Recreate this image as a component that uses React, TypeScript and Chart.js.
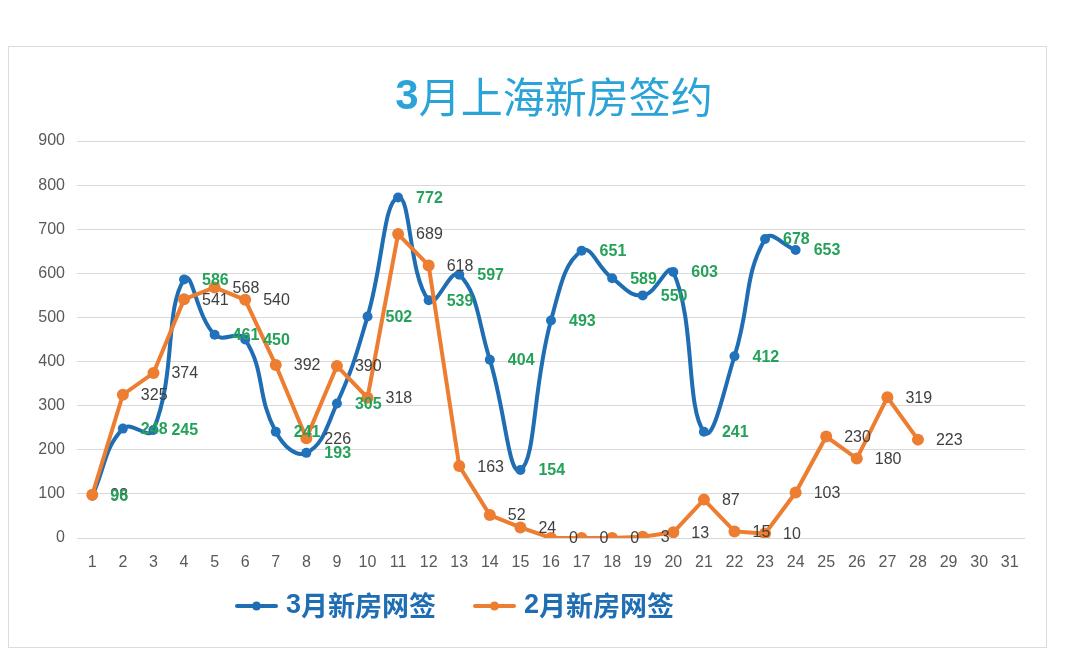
import { useEffect, useRef } from 'react';
import { Chart, registerables, type Plugin } from 'chart.js';

Chart.register(...registerables);

const days = Array.from({ length: 31 }, (_, i) => String(i + 1));
const marchSigned = [96, 248, 245, 586, 461, 450, 241, 193, 305, 502, 772, 539, 597, 404, 154, 493, 651, 589, 550, 603, 241, 412, 678, 653];
const febSigned = [98, 325, 374, 541, 568, 540, 392, 226, 390, 318, 689, 618, 163, 52, 24, 0, 0, 0, 3, 13, 87, 15, 10, 103, 230, 180, 319, 223];
const yTicks = [0, 100, 200, 300, 400, 500, 600, 700, 800, 900];

const TITLE_NUM = '3';
const TITLE_REST = '月上海新房签约';
const MARCH_LABEL = '3月新房网签';
const FEB_LABEL = '2月新房网签';

const BLUE = '#1f6db2';
const ORANGE = '#ed7d31';
const GREEN = '#25a15a';
const LABEL_GRAY = '#404040';
const LATIN = '"Liberation Sans", Arial, sans-serif';
const CJK = '"Noto Sans CJK SC", sans-serif';

// value labels to the right of each point
const valueLabels: Plugin = {
  id: 'valueLabels',
  afterDatasetsDraw(chart) {
    const { ctx } = chart;
    ctx.save();
    ctx.textAlign = 'left';
    ctx.textBaseline = 'middle';
    [1, 0].forEach((di) => {
      const meta = chart.getDatasetMeta(di);
      const ds = chart.data.datasets[di];
      const isMarch = di === 0;
      ctx.font = isMarch ? `bold 16px ${LATIN}` : `16px ${LATIN}`;
      ctx.fillStyle = isMarch ? GREEN : LABEL_GRAY;
      meta.data.forEach((pt, i) => {
        const v = ds.data[i] as number;
        ctx.fillText(String(v), pt.x + 18, pt.y + 1);
      });
    });
    ctx.restore();
  },
};

function drawMixed(ctx: CanvasRenderingContext2D, x: number, y: number, num: string, rest: string, size: number, numWeight: string, restWeight: string, color: string, center: boolean) {
  ctx.font = `${numWeight} ${size}px ${LATIN}`;
  const w1 = ctx.measureText(num).width;
  ctx.font = `${restWeight} ${size}px ${CJK}`;
  const w2 = ctx.measureText(rest).width;
  const start = center ? x - (w1 + w2) / 2 : x;
  ctx.fillStyle = color;
  ctx.textBaseline = 'middle';
  ctx.textAlign = 'left';
  ctx.font = `${numWeight} ${size}px ${LATIN}`;
  ctx.fillText(num, start, y);
  ctx.font = `${restWeight} ${size}px ${CJK}`;
  ctx.fillText(rest, start + w1, y);
  return w1 + w2;
}

const titleAndLegend: Plugin = {
  id: 'titleAndLegend',
  afterDraw(chart) {
    const { ctx } = chart;
    ctx.save();
    drawMixed(ctx, 554, 97, TITLE_NUM, TITLE_REST, 42, 'bold', 'normal', '#2aa3d8', true);

    const items = [
      { color: BLUE, x: 235, label: MARCH_LABEL },
      { color: ORANGE, x: 473, label: FEB_LABEL },
    ];
    items.forEach((it) => {
      const y = 606;
      ctx.strokeStyle = it.color;
      ctx.lineWidth = 4;
      ctx.lineCap = 'round';
      ctx.beginPath();
      ctx.moveTo(it.x + 2, y);
      ctx.lineTo(it.x + 41, y);
      ctx.stroke();
      ctx.fillStyle = it.color;
      ctx.beginPath();
      ctx.arc(it.x + 21.5, y, 4.5, 0, Math.PI * 2);
      ctx.fill();
      drawMixed(ctx, it.x + 51, y, it.label.slice(0, 1), it.label.slice(1), 27, 'bold', 'bold', '#1f6db2', false);
    });
    ctx.restore();
  },
};

export default function App() {
  const canvasRef = useRef<HTMLCanvasElement>(null);

  useEffect(() => {
    if (canvasRef.current === null) return undefined;
    const chart = new Chart(canvasRef.current, {
      type: 'line',
      data: {
        labels: days,
        datasets: [
          {
            label: MARCH_LABEL,
            data: marchSigned,
            borderColor: BLUE,
            backgroundColor: BLUE,
            borderWidth: 4,
            pointRadius: 5,
            pointBackgroundColor: '#2272bb',
            pointBorderWidth: 0,
            tension: 0.45,
            order: 1,
          },
          {
            label: FEB_LABEL,
            data: febSigned,
            borderColor: ORANGE,
            backgroundColor: ORANGE,
            borderWidth: 4,
            pointRadius: 6,
            pointBorderWidth: 0,
            tension: 0,
            order: 0,
          },
        ],
      },
      options: {
        responsive: false,
        animation: false,
        layout: { padding: { left: 0, right: 55, top: 141, bottom: 84 } },
        plugins: {
          legend: { display: false },
          title: { display: false },
          tooltip: { enabled: false },
        },
        scales: {
          x: {
            offset: true,
            grid: { display: false, drawTicks: false },
            border: { display: false },
            ticks: {
              autoSkip: false,
              maxRotation: 0,
              padding: 15,
              color: '#595959',
              font: { family: LATIN, size: 16 },
            },
            afterFit: (s) => { s.height = 40; },
          },
          y: {
            min: 0,
            max: 900,
            afterBuildTicks: (s) => { s.ticks = yTicks.map((v) => ({ value: v })); },
            grid: { color: '#d9d9d9', lineWidth: 1, drawTicks: false },
            border: { display: false },
            ticks: {
              padding: 12,
              color: '#595959',
              font: { family: LATIN, size: 16 },
            },
            afterFit: (s) => { s.width = 77; },
          },
        },
      },
      plugins: [valueLabels, titleAndLegend],
    });
    return () => { chart.destroy(); };
  }, []);

  return (
    <div style={{ position: 'absolute', left: 0, top: 0, width: 1080, height: 662, background: '#fff' }}>
      <div style={{ position: 'absolute', left: 8, top: 46, width: 1037, height: 600, border: '1px solid #dcdcdc' }} />
      <canvas ref={canvasRef} width={1080} height={662} style={{ position: 'absolute', left: 0, top: 0, width: 1080, height: 662 }} />
    </div>
  );
}
